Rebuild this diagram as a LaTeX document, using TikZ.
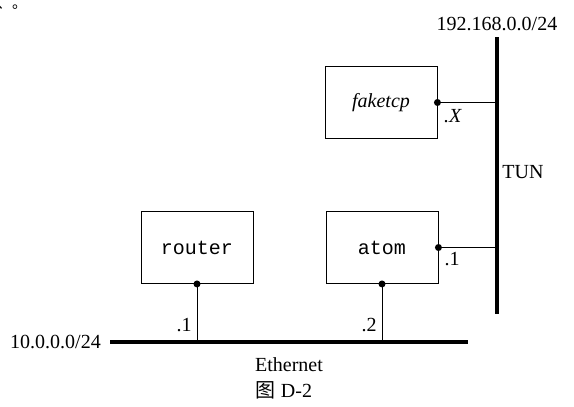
\documentclass[tikz,border=0pt]{standalone}
\usepackage{fontspec}
\setmainfont{Liberation Serif}
\setmonofont{Liberation Mono}
\newfontfamily\cjk{Noto Sans CJK SC}
\begin{document}
\begin{tikzpicture}[x=1pt,y=-1pt,
  every node/.style={font=\fontsize{20}{24}\selectfont, inner sep=0pt},
  hostbox/.style={draw, line width=0.9pt, minimum width=112pt, minimum height=72pt, font=\fontsize{20}{24}\selectfont\ttfamily},
  bus/.style={line width=4pt},
  link/.style={line width=0.9pt},
  port/.style={circle, fill=black, minimum size=7pt, inner sep=0pt}
]
\useasboundingbox (0,0) rectangle (574,407);
% stray punctuation at top left
\node[font=\fontsize{15}{16}\cjk, anchor=base west] (punct) at (-3,8) {、。};
% hosts
\node[hostbox, font=\fontsize{20}{24}\selectfont\itshape] (faketcp) at (381,102.5) {faketcp};
\node[hostbox] (router) at (197,247.5) {router};
\node[hostbox] (atom) at (382,247.5) {atom};
% buses
\coordinate (tunT) at (497,37);
\coordinate (tunB) at (497,314);
\coordinate (ethL) at (110,342);
\coordinate (ethR) at (468,342);
\draw[bus] (tunT) -- (tunB);
\draw[bus] (ethL) -- (ethR);
% ports
\node[port] (pf) at (faketcp.east) {};
\node[port] (pa) at (atom.east) {};
\node[port] (pr) at (router.south) {};
\node[port] (pa2) at (atom.south) {};
\coordinate (tf) at (pf -| tunT);
\coordinate (ta) at (pa -| tunT);
\coordinate (er) at (pr |- ethL);
\coordinate (ea) at (pa2 |- ethL);
\draw[link] (pf.center) -- (tf);
\draw[link] (pa.center) -- (ta);
\draw[link] (pr.center) -- (er);
\draw[link] (pa2.center) -- (ea);
% labels
\node (netA) at (497,24) {192.168.0.0/24};
\node[anchor=east] (netB) at (101,342) {10.0.0.0/24};
\node (tun) at (523,172) {TUN};
\node (eth) at (289,365) {Ethernet};
\node (fig) at (284,390) {{\cjk 图} D-2};
\node (lx) at (453,116) {\textit{.X}};
\node (l1a) at (452,259) {.1};
\node (l1r) at (184,325) {.1};
\node (l2a) at (369,325) {.2};
\end{tikzpicture}
\end{document}
